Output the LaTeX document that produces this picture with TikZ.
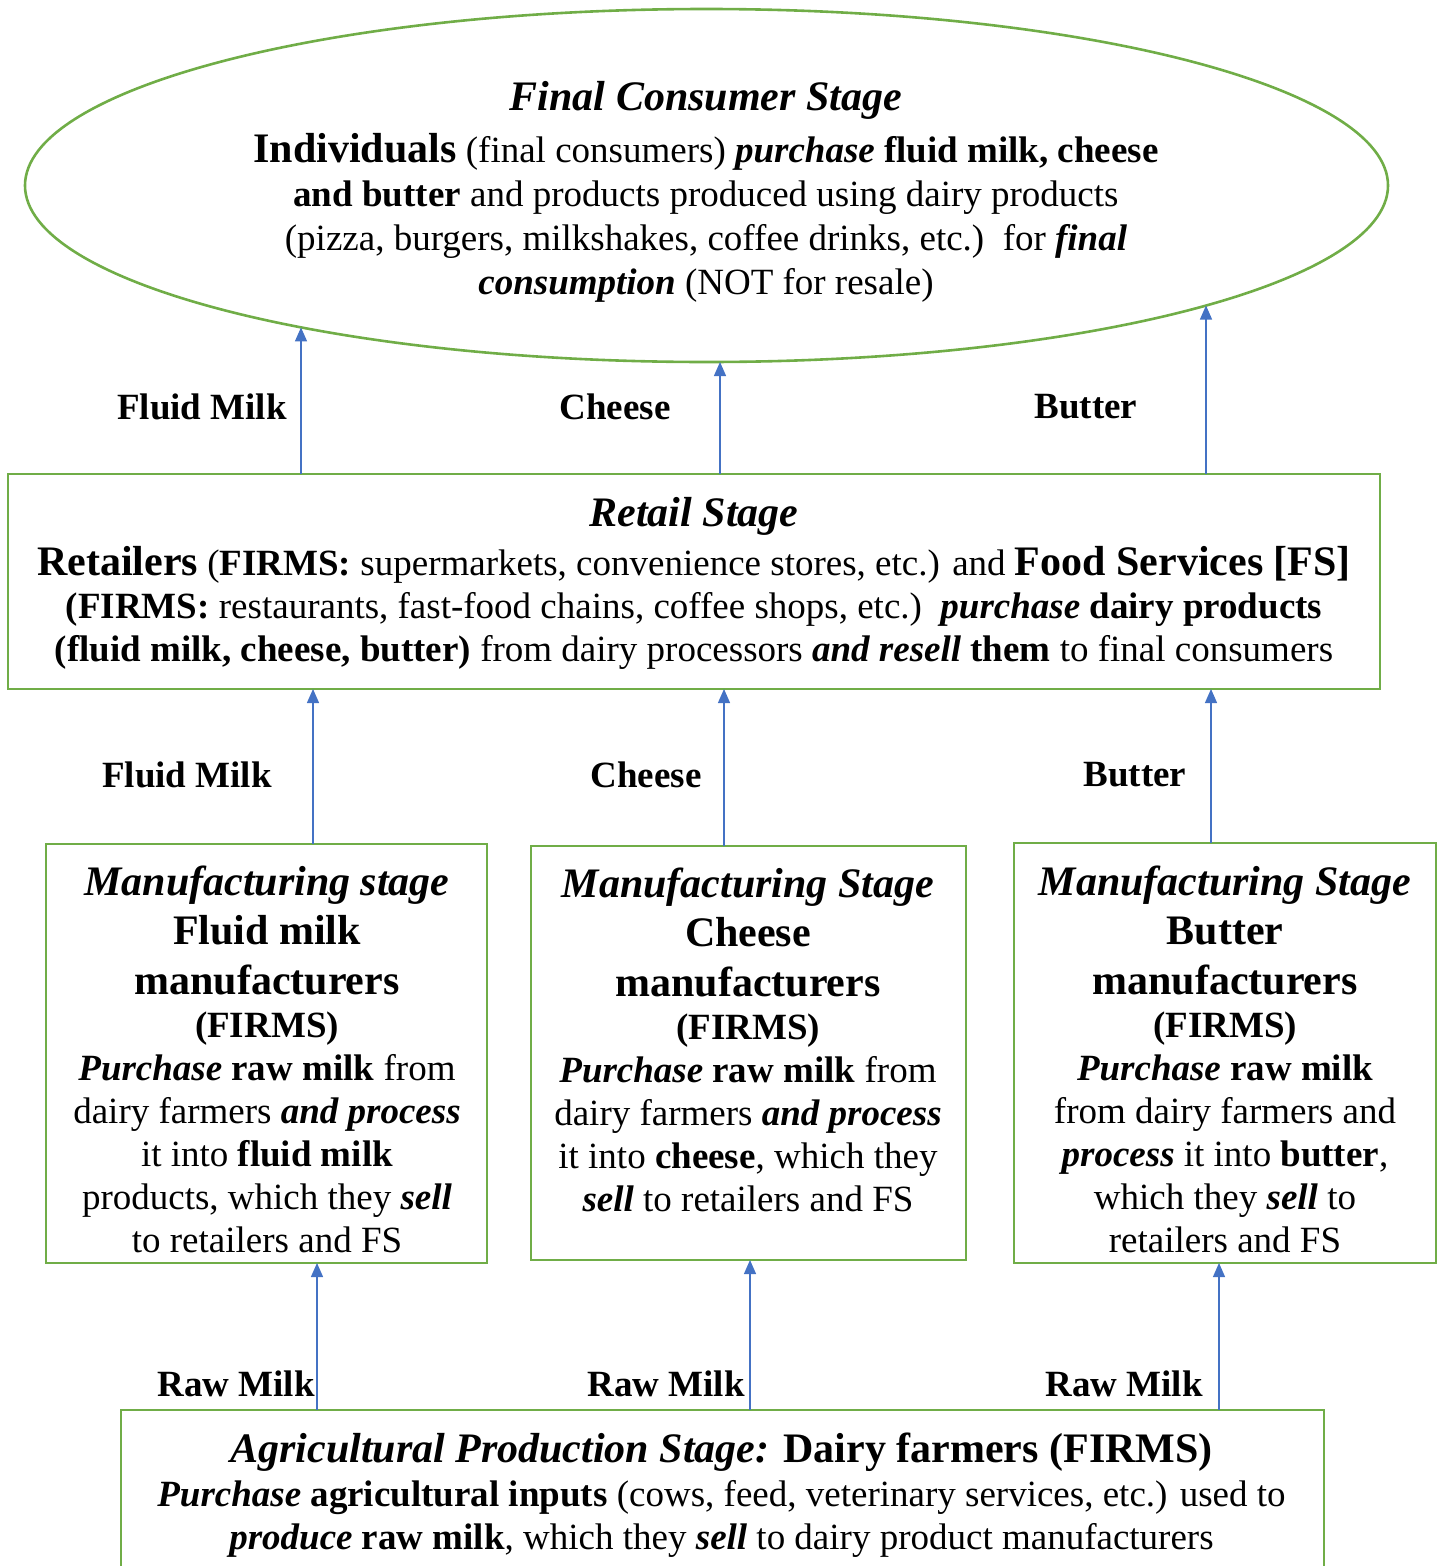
\documentclass[tikz,border=0pt]{standalone}
\usepackage{fontspec}
\setmainfont{Liberation Serif}
\usetikzlibrary{shapes.geometric,arrows.meta,calc}
\definecolor{bordergreen}{HTML}{70AD47}
\definecolor{arrowblue}{HTML}{4472C4}
\newcommand\bi[1]{\textbf{\textit{#1}}}
\newcommand\bigsz{\fontsize{42}{43}\selectfont}
\begin{document}
\begin{tikzpicture}[x=1pt,y=-1pt,
  box/.style={draw=bordergreen, line width=2.6pt, rectangle, inner sep=0pt, outer sep=0pt},
  txt/.style={align=center, font=\fontsize{37}{43}\selectfont, inner sep=0pt},
  lbl/.style={font=\fontsize{37}{43}\selectfont\bfseries, inner sep=0pt},
  arr/.style={draw=arrowblue, line width=1.3pt, -{Triangle[width=12pt,length=14pt]}}]
\useasboundingbox (0,0) rectangle (1442,1566);
\clip (0,0) rectangle (1442,1566);

% Final consumer stage
\node[box, ellipse, minimum width=1363pt, minimum height=353pt] (cons) at (706.5,185.5) {};
\node[txt, font=\fontsize{37}{44}\selectfont] (constext) at (706,191.5) {{\bigsz\bi{Final Consumer Stage}}\\[8pt]
{\bigsz\textbf{Individuals}} (final consumers) \bi{purchase} \textbf{fluid milk, cheese}\\
\textbf{and butter} and products produced using dairy products\\
(pizza, burgers, milkshakes, coffee drinks, etc.)\ \ for \bi{final}\\
\bi{consumption} (NOT for resale)};

% Retail stage
\node[box, minimum width=1372pt, minimum height=215pt] (retail) at (694,581.5) {};
\node[txt] (retailtext) at (694,583) {{\bigsz\bi{Retail Stage}}\\[6pt]
{\bigsz\textbf{Retailers}} (\textbf{FIRMS:} supermarkets, convenience stores, etc.) and {\bigsz\textbf{Food Services [FS]}}\\
\textbf{(FIRMS:} restaurants, fast-food chains, coffee shops, etc.)\ \ \bi{purchase} \textbf{dairy products}\\
\textbf{(fluid milk, cheese, butter)} from dairy processors \bi{and resell} \textbf{them} to final consumers};

% Manufacturing stages
\node[box, minimum width=441pt, minimum height=419pt] (m1) at (266.5,1053.5) {};
\node[txt] (m1text) at (267,1059.5) {{\bigsz\bi{Manufacturing stage}}\\[6pt]
{\bigsz\textbf{Fluid milk}}\\[7pt]
{\bigsz\textbf{manufacturers}}\\[0pt]
\textbf{(FIRMS)}\\
\bi{Purchase} \textbf{raw milk} from\\
dairy farmers \bi{and process}\\
it into \textbf{fluid milk}\\
products, which they \bi{sell}\\
to retailers and FS};

\node[box, minimum width=435pt, minimum height=414pt] (m2) at (748.5,1053) {};
\node[txt] (m2text) at (748,1039.5) {{\bigsz\bi{Manufacturing Stage}}\\[6pt]
{\bigsz\textbf{Cheese}}\\[7pt]
{\bigsz\textbf{manufacturers}}\\[0pt]
\textbf{(FIRMS)}\\
\bi{Purchase} \textbf{raw milk} from\\
dairy farmers \bi{and process}\\
it into \textbf{cheese}, which they\\
\bi{sell} to retailers and FS};

\node[box, minimum width=422pt, minimum height=420pt] (m3) at (1225,1053) {};
\node[txt] (m3text) at (1225,1059.5) {{\bigsz\bi{Manufacturing Stage}}\\[6pt]
{\bigsz\textbf{Butter}}\\[7pt]
{\bigsz\textbf{manufacturers}}\\[0pt]
\textbf{(FIRMS)}\\
\bi{Purchase} \textbf{raw milk}\\
from dairy farmers and\\
\bi{process} it into \textbf{butter},\\
which they \bi{sell} to\\
retailers and FS};

% Agricultural production stage
\node[box, minimum width=1203pt, minimum height=220pt] (agri) at (722.5,1520) {};
\node[txt] (agritext) at (721.5,1495) {{\bigsz\bi{Agricultural Production Stage:} \textbf{Dairy farmers (FIRMS)}}\\[1pt]
\bi{Purchase} \textbf{agricultural inputs} (cows, feed, veterinary services, etc.) used to\\
\bi{produce} \textbf{raw milk}, which they \bi{sell} to dairy product manufacturers};

% connector positions
\coordinate (e1) at ($(cons.center)+(-405.5,141.9)$);
\coordinate (e2) at ($(cons.center)+(13.5,176.5)$);
\coordinate (e3) at ($(cons.center)+(499.5,120)$);
\coordinate (c1) at (313,0);
\coordinate (c2) at (724,0);
\coordinate (c3) at (1211,0);
\coordinate (r1) at (317,0);
\coordinate (r2) at (750,0);
\coordinate (r3) at (1219,0);

% retail -> consumers
\draw[arr] (retail.north -| e1) -- (e1);
\draw[arr] (retail.north -| e2) -- (e2);
\draw[arr] (retail.north -| e3) -- (e3);
% manufacturers -> retail
\draw[arr] (m1.north -| c1) -- (retail.south -| c1);
\draw[arr] (m2.north -| c2) -- (retail.south -| c2);
\draw[arr] (m3.north -| c3) -- (retail.south -| c3);
% farmers -> manufacturers
\draw[arr] (agri.north -| r1) -- (m1.south -| r1);
\draw[arr] (agri.north -| r2) -- (m2.south -| r2);
\draw[arr] (agri.north -| r3) -- (m3.south -| r3);

% labels
\node[lbl] (l1) at (202,407) {Fluid Milk};
\node[lbl] (l2) at (615,407) {Cheese};
\node[lbl] (l3) at (1086,407) {Butter};
\node[lbl] (l4) at (187,775) {Fluid Milk};
\node[lbl] (l5) at (646,775) {Cheese};
\node[lbl] (l6) at (1135,775) {Butter};
\node[lbl] (l7) at (236,1384) {Raw Milk};
\node[lbl] (l8) at (666,1384) {Raw Milk};
\node[lbl] (l9) at (1124,1384) {Raw Milk};
\end{tikzpicture}
\end{document}
